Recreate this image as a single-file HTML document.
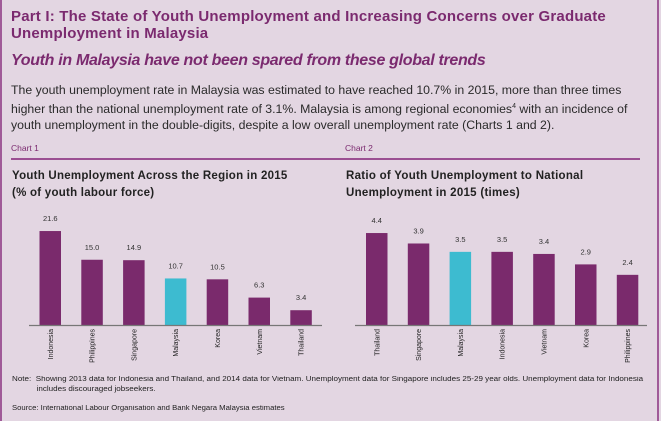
<!DOCTYPE html>
<html><head><meta charset="utf-8"><style>
body{margin:0;width:661px;height:421px;background:#e3d6e2;font-family:"Liberation Sans",sans-serif;overflow:hidden;position:relative}
.a{position:absolute;white-space:nowrap}
</style></head><body>
<div style="position:absolute;left:0;top:0;width:2px;height:421px;background:#a05a98"></div>
<div style="position:absolute;left:657px;top:0;width:2px;height:421px;background:#a05a98"></div>
<div class="a" style="left:11px;top:8px;font-size:15px;font-weight:bold;color:#7b2a6f;line-height:17px;letter-spacing:0.2px">Part I: The State of Youth Unemployment and Increasing Concerns over Graduate<br>Unemployment in Malaysia</div>
<div class="a" style="left:11px;top:52px;font-size:16px;font-weight:bold;font-style:italic;color:#7b2a6f;letter-spacing:-0.32px">Youth in Malaysia have not been spared from these global trends</div>
<div class="a" style="left:11px;top:82px;font-size:12.3px;color:#2a2a2a;line-height:16.5px;letter-spacing:0px">The youth unemployment rate in Malaysia was estimated to have reached 10.7% in 2015, more than three times<br>higher than the national unemployment rate of 3.1%. Malaysia is among regional economies<sup style="font-size:7px">4</sup> with an incidence of<br>youth unemployment in the double-digits, despite a low overall unemployment rate (Charts 1 and 2).</div>
<div class="a" style="left:11px;top:143px;font-size:8.5px;color:#7b2a6f">Chart 1</div>
<div class="a" style="left:345px;top:143px;font-size:8.5px;color:#7b2a6f">Chart 2</div>
<div style="position:absolute;left:11px;top:158px;width:629px;height:1.5px;background:#9b4f92"></div>
<div class="a" style="left:12px;top:168px;font-size:11.5px;font-weight:bold;color:#222;line-height:17px;letter-spacing:0.25px">Youth Unemployment Across the Region in 2015<br>(% of youth labour force)</div>
<div class="a" style="left:346px;top:168px;font-size:11.5px;font-weight:bold;color:#222;line-height:17px;letter-spacing:0.28px">Ratio of Youth Unemployment to National<br>Unemployment in 2015 (times)</div>
<svg id="c" width="661" height="421" style="position:absolute;left:0;top:0"></svg>
<div class="a" style="left:12px;top:375px;font-size:7px;color:#222;line-height:10px;transform:scaleX(1.15);transform-origin:0 0">Note:&nbsp; Showing 2013 data for Indonesia and Thailand, and 2014 data for Vietnam. Unemployment data for Singapore includes 25-29 year olds. Unemployment data for Indonesia<br>&nbsp;&nbsp;&nbsp;&nbsp;&nbsp;&nbsp;&nbsp;&nbsp;&nbsp;&nbsp;&nbsp;includes discouraged jobseekers.</div>
<div class="a" style="left:12px;top:405px;font-size:7px;color:#222;transform:scaleX(1.1);transform-origin:0 0">Source: International Labour Organisation and Bank Negara Malaysia estimates</div>
<script>
const cats1=["Indonesia","Philippines","Singapore","Malaysia","Korea","Vietnam","Thailand"];
const vals1=[21.6,15.0,14.9,10.7,10.5,6.3,3.4];
const cats2=["Thailand","Singapore","Malaysia","Indonesia","Vietnam","Korea","Philippines"];
const vals2=[4.4,3.9,3.5,3.5,3.4,2.9,2.4];
const NS="http://www.w3.org/2000/svg",svg=document.getElementById('c');
function mk(t,a){const e=document.createElementNS(NS,t);for(const k in a)e.setAttribute(k,a[k]);svg.appendChild(e);return e;}
function draw(cats,vals,x0,axL,axR,pxPer,id){
  const base=325,step=41.8,w=21.5;
  const x=i=>x0+i*step, y=v=>base-v*pxPer;
  cats.forEach((c,i)=>{
    const r=mk('rect',{x:x(i),y:y(vals[i]),width:w,height:base-y(vals[i]),fill:c==="Malaysia"?"#3dbbd0":"#7a2a6c"});
    
    
    const t=mk('text',{x:x(i)+w/2,y:y(vals[i])-10,'text-anchor':'middle','font-size':'7.5','fill':'#333','font-family':'Liberation Sans'});
    t.textContent=vals[i].toFixed(1);
    
    
    const l=mk('text',{transform:`translate(${x(i)+w/2+2.5},329) rotate(-90)`,'text-anchor':'end','font-size':'7','fill':'#222','font-family':'Liberation Sans'});
    l.textContent=c;
    
    
  });
  const ax=mk('line',{x1:axL,x2:axR,y1:base+0.5,y2:base+0.5,stroke:'#777','stroke-width':1.2});
  
  
}
draw(cats1,vals1,39.5,29,322,4.35,'chart1');
draw(cats2,vals2,366,355,647,20.9,'chart2');
</script>
</body></html>
